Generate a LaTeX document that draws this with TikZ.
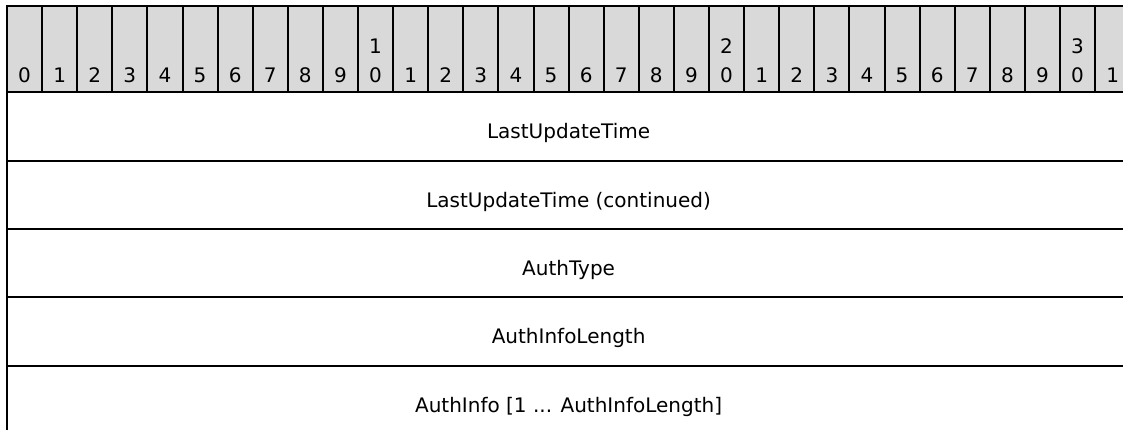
\documentclass[tikz,border=0pt]{standalone}
\usepackage{fontspec}
\setmainfont{DejaVu Sans}
\begin{document}
\begin{tikzpicture}[x=1pt,y=-1pt,
  every node/.style={inner sep=0pt,outer sep=0pt,font=\fontsize{20}{28}\selectfont},
  bitcell/.style={draw=black,line width=2pt,fill=hdrgray,minimum width=35.1pt,minimum height=86.8pt,anchor=north west},
  rowbox/.style={draw=black,line width=2pt,minimum width=1123.2pt,minimum height=68.3pt,anchor=north west},
  lbl/.style={anchor=base,text=black}]
\definecolor{hdrgray}{HTML}{D9D9D9}
\useasboundingbox (0,0) rectangle (1123,429);
% header cells
\foreach \i in {0,...,31} {
  \node[bitcell] (c\i) at ({7+35.1*\i},5.5) {};
}
% header labels
\foreach \i/\t in {0/0,1/1,2/2,3/3,4/4,5/5,6/6,7/7,8/8,9/9,11/1,12/2,13/3,14/4,15/5,16/6,17/7,18/8,19/9,21/1,22/2,23/3,24/4,25/5,26/6,27/7,28/8,29/9,31/1} {
  \node[lbl] (t\i) at ({7+35.1*\i+17.55},82) {\t};
}
\foreach \i/\a in {10/1,20/2,30/3} {
  \node[lbl] (u\i) at ({7+35.1*\i+17.55},53.6) {\a};
  \node[lbl] (t\i) at ({7+35.1*\i+17.55},82) {0};
}
% rows
\node[rowbox] (r0) at (7,92.3) {};
\node[rowbox] (r1) at (7,160.6) {};
\node[rowbox] (r2) at (7,228.9) {};
\node[rowbox] (r3) at (7,297.2) {};
\node[rowbox] (r4) at (7,365.5) {};
\node[lbl] (l0) at (568.6,138.8) {LastUpdateTime};
\node[lbl] (l1) at (568.6,207.1) {LastUpdateTime (continued)};
\node[lbl] (l2) at (568.6,275.4) {AuthType};
\node[lbl] (l3) at (568.6,343.7) {AuthInfoLength};
\node[lbl] (l4) at (568.6,412.0) {AuthInfo [1 ... AuthInfoLength]};
\end{tikzpicture}
\end{document}
